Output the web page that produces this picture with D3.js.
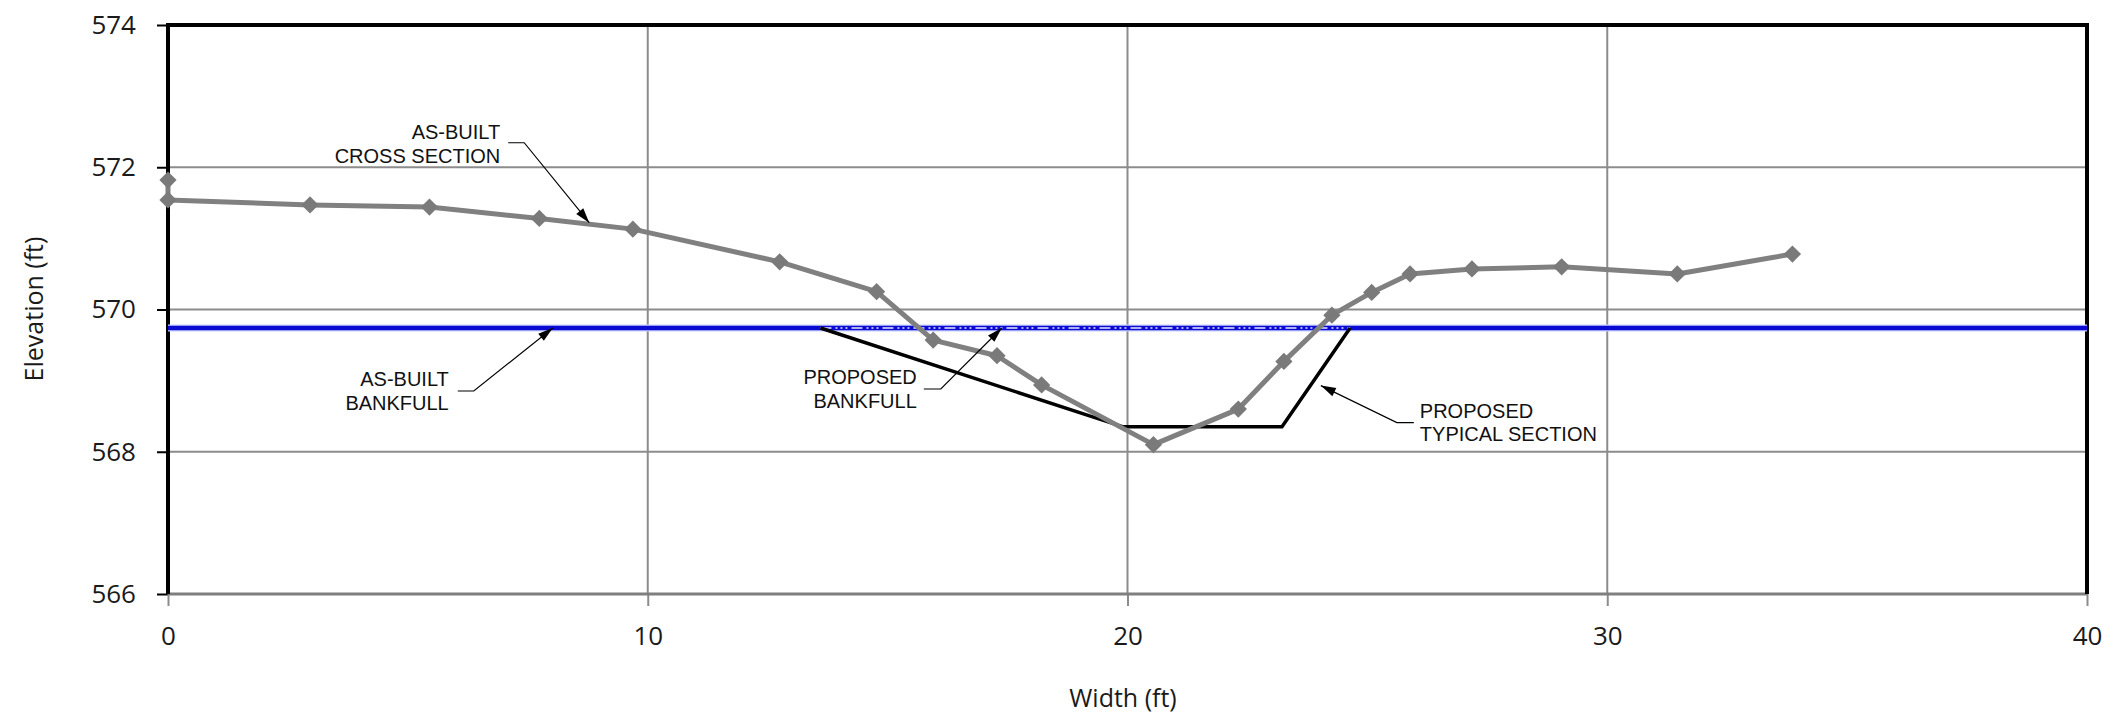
<!DOCTYPE html>
<html>
<head>
<meta charset="utf-8">
<script src="https://cdn.jsdelivr.net/npm/d3@7"></script>
<style>
  html, body { margin: 0; padding: 0; background: #ffffff; }
  svg { display: block; }
</style>
</head>
<body>
<svg id="chart" width="2122" height="718"></svg>
<script>
// ---- data ----
const asBuiltX = [0, 0, 2.96, 5.45, 7.74, 9.69, 12.75, 14.77, 15.95, 17.28, 18.21, 20.54, 22.31, 23.26, 24.26, 25.09, 25.89, 27.18, 29.05, 31.46, 33.86];
const asBuiltY = [571.82, 571.54, 571.47, 571.44, 571.28, 571.13, 570.67, 570.25, 569.57, 569.35, 568.94, 568.10, 568.60, 569.27, 569.92, 570.24, 570.50, 570.57, 570.60, 570.50, 570.78];
const proposedX = [13.6, 19.91, 23.22, 24.64];
const proposedY = [569.74, 568.35, 568.35, 569.74];
const asBuiltBankfullX = [0, 40];
const asBuiltBankfullY = [569.74, 569.74];
const proposedBankfullX = [13.6, 24.64];
const proposedBankfullY = [569.74, 569.74];
const xTicks = [0, 10, 20, 30, 40];
const yTicks = [566, 568, 570, 572, 574];
const xTitle = "Width (ft)";
const yTitle = "Elevation (ft)";
const annotationTexts = [
  ["AS-BUILT", "CROSS SECTION"],
  ["AS-BUILT", "BANKFULL"],
  ["PROPOSED", "BANKFULL"],
  ["PROPOSED", "TYPICAL SECTION"]
];
// annotation arrow tips in data units
const annotationTipX = [8.78, 8.02, 17.38, 24.03];
const annotationTipY = [571.22, 569.74, 569.74, 568.93];

// ---- layout ----
const L = 168, R = 2087, T = 25, B = 594;
const svg = d3.select("#chart");
const x = d3.scaleLinear().domain([0, 40]).range([L, R]);
const y = d3.scaleLinear().domain([566, 574]).range([B, T]);

const tickFont = "'Open Sans', 'Noto Sans', sans-serif";
const annFont = "'Liberation Sans', Arial, sans-serif";

// gridlines
const grid = svg.append("g");
grid.selectAll("line.h").data(yTicks.filter(v => v > 566 && v < 574)).enter().append("line")
  .attr("x1", L).attr("x2", R).attr("y1", d => y(d)).attr("y2", d => y(d))
  .attr("stroke", "#8c8c8c").attr("stroke-width", 2);
grid.selectAll("line.v").data(xTicks.filter(v => v > 0 && v < 40)).enter().append("line")
  .attr("y1", T).attr("y2", B).attr("x1", d => x(d)).attr("x2", d => x(d))
  .attr("stroke", "#8c8c8c").attr("stroke-width", 2);

// axes
const yAxis = svg.append("g").attr("transform", `translate(${L},0)`)
  .call(d3.axisLeft(y).tickValues(yTicks).tickSize(11).tickPadding(21).tickFormat(d3.format("d")));
yAxis.select(".domain").remove();
yAxis.selectAll(".tick line").attr("stroke", "#000").attr("stroke-width", 2);
yAxis.selectAll(".tick text").attr("font-family", tickFont).attr("font-size", 26).attr("fill", "#1a1a1a");

const xAxis = svg.append("g").attr("transform", `translate(0,${B})`)
  .call(d3.axisBottom(x).tickValues(xTicks).tickSize(12).tickPadding(21).tickFormat(d3.format("d")));
xAxis.select(".domain").remove();
xAxis.selectAll(".tick line").attr("stroke", "#8c8c8c").attr("stroke-width", 2);
xAxis.selectAll(".tick text").attr("font-family", tickFont).attr("font-size", 26).attr("fill", "#1a1a1a");

// frame
svg.append("line").attr("x1", L).attr("x2", R).attr("y1", B).attr("y2", B)
  .attr("stroke", "#7f7f7f").attr("stroke-width", 3);
svg.append("path").attr("d", `M${L},${B} L${L},${T} L${R},${T} L${R},${B}`)
  .attr("fill", "none").attr("stroke", "#000").attr("stroke-width", 4);

// titles
svg.append("text").attr("x", 1123).attr("y", 700).attr("text-anchor", "middle")
  .attr("dominant-baseline", "middle").attr("font-family", tickFont).attr("font-size", 25)
  .attr("fill", "#1a1a1a").text(xTitle);
svg.append("text").attr("transform", "translate(36,309) rotate(-90)").attr("text-anchor", "middle")
  .attr("dominant-baseline", "middle").attr("font-family", tickFont).attr("font-size", 25)
  .attr("fill", "#1a1a1a").text(yTitle);

const line = d3.line().x(d => x(d[0])).y(d => y(d[1]));

// as-built bankfull (blue)
svg.append("path").datum(d3.zip(asBuiltBankfullX, asBuiltBankfullY)).attr("d", line)
  .attr("fill", "none").attr("stroke", "#c8d0ff").attr("stroke-width", 7);
svg.append("path").datum(d3.zip(asBuiltBankfullX, asBuiltBankfullY)).attr("d", line)
  .attr("fill", "none").attr("stroke", "#0a0ad2").attr("stroke-width", 4.5);

// proposed bankfull dash-dot overlay
svg.append("path").datum(d3.zip(proposedBankfullX, proposedBankfullY)).attr("d", line)
  .attr("fill", "none").attr("stroke", "#e6e8ff").attr("stroke-width", 1.5)
  .attr("stroke-dasharray", "11,4,2,3,2,3,2,4");

// proposed typical section
svg.append("path").datum(d3.zip(proposedX, proposedY)).attr("d", line)
  .attr("fill", "none").attr("stroke", "#000").attr("stroke-width", 3.5)
  .attr("stroke-linejoin", "miter");

// as-built cross section
const ab = d3.zip(asBuiltX, asBuiltY);
svg.append("path").datum(ab).attr("d", line)
  .attr("fill", "none").attr("stroke", "#808080").attr("stroke-width", 5)
  .attr("stroke-linejoin", "round");
svg.selectAll("path.dia").data(ab).enter().append("path")
  .attr("d", d3.symbol().type(d3.symbolDiamond2).size(190))
  .attr("transform", d => `translate(${x(d[0])},${y(d[1])}) rotate(0)`)
  .attr("fill", "#7a7a7a");

// annotations (leader geometry in px offsets from tip)
const annLayout = [
  { elbow: [-65, -80], end: [-81, -80], textX: -89, textY: -83.5, anchor: "end" },
  { elbow: [-79, 63], end: [-95, 63], textX: -104, textY: 58.5, anchor: "end" },
  { elbow: [-61, 61], end: [-78, 61], textX: -85, textY: 56.5, anchor: "end" },
  { elbow: [76, 37], end: [93, 37], textX: 99, textY: 32, anchor: "start" }
];
annotationTexts.forEach((lines, i) => {
  const tx = x(annotationTipX[i]), ty = y(annotationTipY[i]);
  const a = annLayout[i];
  const ex = tx + a.elbow[0], ey = ty + a.elbow[1];
  svg.append("path")
    .attr("d", `M${tx + a.end[0]},${ty + a.end[1]} L${ex},${ey} L${tx},${ty}`)
    .attr("fill", "none").attr("stroke", "#000").attr("stroke-width", 1.2);
  // arrowhead
  const ang = Math.atan2(ty - ey, tx - ex);
  const len = 15, hw = 4.5;
  const bx = tx - len * Math.cos(ang), by = ty - len * Math.sin(ang);
  const px = -Math.sin(ang) * hw, py = Math.cos(ang) * hw;
  svg.append("path")
    .attr("d", `M${tx},${ty} L${bx + px},${by + py} L${bx - px},${by - py} Z`)
    .attr("fill", "#000");
  lines.forEach((t, j) => {
    svg.append("text").attr("x", tx + a.textX).attr("y", ty + a.textY + j * 23.5)
      .attr("text-anchor", a.anchor).attr("font-family", annFont).attr("font-size", 20)
      .attr("fill", "#111").text(t);
  });
});
</script>
</body>
</html>
